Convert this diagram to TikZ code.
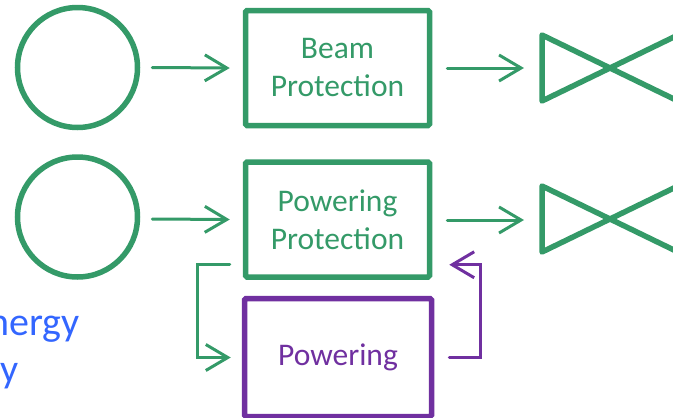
\documentclass[tikz,border=0pt]{standalone}
\usepackage{fontspec}
\setmainfont{Carlito}
\usetikzlibrary{arrows.meta}
\definecolor{pgreen}{RGB}{52,154,104}
\definecolor{ppurple}{RGB}{112,48,160}
\definecolor{pblue}{RGB}{51,102,255}
\tikzset{
  ring/.style={circle,draw=pgreen,line width=5.5pt,minimum size=120pt,inner sep=0pt},
  gbox/.style={rectangle,draw=pgreen,line width=5.5pt,rounded corners=1.5pt,minimum width=184pt,minimum height=115pt,inner sep=0pt,align=center,text=pgreen,font=\fontsize{31.5}{38}\selectfont},
  pbox/.style={rectangle,draw=ppurple,line width=5.5pt,rounded corners=1.5pt,minimum width=187pt,minimum height=118pt,inner sep=0pt,align=center,text=ppurple,font=\fontsize{31.5}{38}\selectfont},
  garrow/.style={draw=pgreen,line width=3pt,line cap=round,-{Straight Barb[length=22pt,width=26pt,line width=3pt]}},
  parrow/.style={draw=ppurple,line width=3pt,line cap=round,-{Straight Barb[length=22pt,width=26pt,line width=3pt]}},
  valve/.style={draw=pgreen,line width=5.5pt,line join=round},
  bluetext/.style={text=pblue,font=\fontsize{40}{47}\selectfont,inner sep=0pt}
}
\begin{document}
\begin{tikzpicture}[x=1pt,y=-1pt]
\useasboundingbox (0,0) rectangle (673,418);
\clip (0,0) rectangle (673,418);
% circles
\node[ring] (c1) at (77.5,67.5) {};
\node[ring] (c2) at (77.5,217) {};
% boxes
\node[gbox] (b1) at (337.5,68) {Beam\\Protection};
\node[gbox] (b2) at (337.5,219.5) {Powering\\Protection};
\node[pbox] (b3) at (338,357.5) {Powering};
% valves
\coordinate (v1) at (610,68);
\coordinate (v2) at (610,219);
\draw[valve] (542,35) -- (542,101) -- (v1) -- cycle;
\draw[valve] (678,35) -- (678,101) -- (v1) -- cycle;
\draw[valve] (542,186) -- (542,252) -- (v2) -- cycle;
\draw[valve] (678,186) -- (678,252) -- (v2) -- cycle;
\coordinate (v1w) at (540,68);
\coordinate (v2w) at (540,220);
% arrows
\draw[garrow] ([xshift=12pt]c1.east) -- ([xshift=-13pt]b1.west);
\draw[garrow] ([xshift=12pt,yshift=-2pt]c2.east) -- ([xshift=-13pt]b2.west);
\draw[garrow] ([xshift=15pt]b1.east) -- ([xshift=-16pt]v1w);
\draw[garrow] ([xshift=15pt,yshift=-0.5pt]b2.east) -- ([xshift=-16pt]v2w);
% feedback loop
\draw[garrow] ([xshift=-13pt,yshift=15pt]b2.south west) -- ++(-32pt,0) |- ([xshift=-11pt]b3.west);
\draw[parrow] ([xshift=15pt]b3.east) -- ++(31pt,0) |- ([xshift=17pt,yshift=15pt]b2.south east);
% partial blue text (cut off at the left edge, as in the reference)
\node[bluetext,anchor=base east] (t1) at (80,335) {Energy};
\node[bluetext,anchor=base east] (t2) at (18.5,382) {y};
\end{tikzpicture}
\end{document}
